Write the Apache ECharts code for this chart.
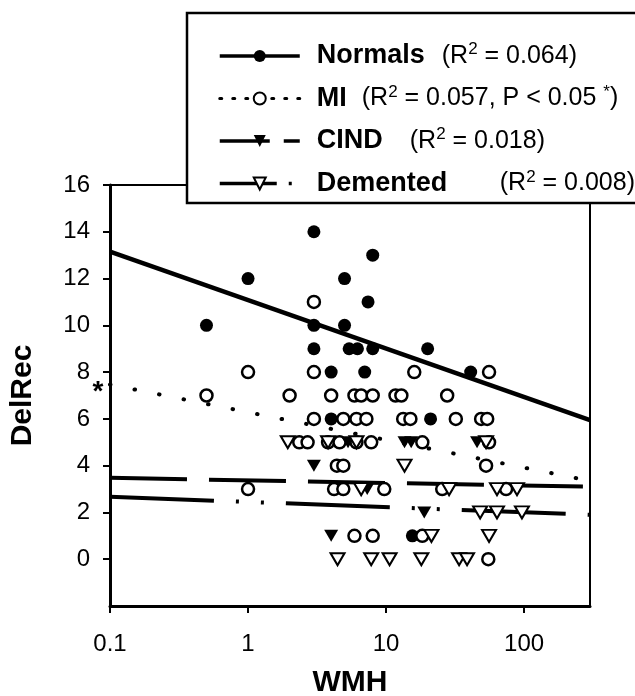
<!DOCTYPE html>
<html>
<head>
<meta charset="utf-8">
<script src="https://cdn.jsdelivr.net/npm/echarts@6.0.0/dist/echarts.min.js"></script>
<style>
    html, body { margin: 0; padding: 0; background: #fff; }
    #main { width: 635px; height: 696px; }
</style>
</head>
<body>
<div id="main"></div>
<script>
// groups and their R2 values
var groups = ["Normals", "MI", "CIND", "Demented"];
var r2Values = ["0.064", "0.057", "0.018", "0.008"];
var miNote = "P < 0.05";

// Normals (filled circles)
var normalsX = [3, 8, 1, 5, 7.4, 0.5, 3, 5, 3, 5.4, 6.2, 8, 20, 4, 7, 41, 4, 21, 15.5];
var normalsY = [14, 13, 12, 12, 11, 10, 10, 10, 9, 9, 9, 9, 9, 8, 8, 8, 6, 6, 1];

// MI (open circles)
var miX = [3,
    1, 3, 16, 55.7,
    0.5, 2, 4, 5.9, 6.6, 8, 11.7, 12.9, 27.7,
    3, 4.9, 6.1, 7.2, 13.3, 15, 32, 48.8, 54,
    2.35, 2.7, 3.8, 4.6, 6.1, 7.8, 18.3, 55.7,
    4.4, 4.9, 53,
    1, 4.2, 4.9, 9.7, 25.5, 74,
    5.9, 8, 18.3,
    55];
var miY = [11,
    8, 8, 8, 8,
    7, 7, 7, 7, 7, 7, 7, 7, 7,
    6, 6, 6, 6, 6, 6, 6, 6, 6,
    5, 5, 5, 5, 5, 5, 5, 5,
    4, 4, 4,
    3, 3, 3, 3, 3, 3,
    1, 1, 1,
    0];

// CIND (filled down triangles)
var cindX = [5.3, 13.6, 15.2, 45.6, 3, 7.3, 18.9, 4];
var cindY = [5, 5, 5, 5, 4, 3, 2, 1];

// Demented (open down triangles)
var dementedX = [1.94, 3.8, 6.1, 53, 13.6, 6.6, 28.6, 63.6, 88.8, 48, 63.6, 96.4, 21.3, 55.7, 4.45, 7.8, 10.6, 18, 33.8, 38.6];
var dementedY = [5, 5, 5, 5, 4, 3, 3, 3, 3, 2, 2, 2, 1, 1, 0, 0, 0, 0, 0, 0];

// regression lines, ends
var fitX = [0.1, 300];
var normalsFit = [13.15, 5.95];
var miFit = [7.47, 3.35];
var cindFit = [3.48, 3.1];
var dementedFit = [2.67, 1.9];

var FONT = "Liberation Sans";
var triDown = "path://M0,0L10,0L5,8.66Z";

function pairs(xs, ys) {
    return xs.map(function (x, i) { return [x, ys[i]]; });
}

// legend text: width of the bold name part per row
var nameWidths = [125, 45, 93, 183];
var rich = {
    g: { width: 12 },
    n: { fontFamily: FONT, fontSize: 25, color: "#000", lineHeight: 30 },
    s: { fontFamily: FONT, fontSize: 17, color: "#000", verticalAlign: "top", lineHeight: 17 }
};
nameWidths.forEach(function (w, i) {
    rich["b" + i] = { fontFamily: FONT, fontSize: 27, fontWeight: "bold", color: "#000", width: w, lineHeight: 30 };
});

function legendText(name) {
    var i = groups.indexOf(name);
    var txt = "{g|}{b" + i + "|" + name + "}{n|(R}{s|2}{n| = " + r2Values[i];
    if (name == "MI") {
        txt += ", " + miNote + " }{s|*}{n|)}";
    } else {
        txt += ")}";
    }
    return txt;
}

var chart = echarts.init(document.getElementById("main"));

var option = {
    animation: false,
    backgroundColor: "#fff",
    grid: {
        left: 110,
        right: 45,
        top: 185,
        bottom: 90,
        outerBoundsMode: "none",
        containLabel: false,
        show: true,
        borderColor: "#000",
        borderWidth: 2
    },
    legend: {
        orient: "vertical",
        left: 187,
        top: 13,
        padding: [28, 12, 6, 31],
        itemWidth: 80,
        itemHeight: 15,
        itemGap: 14,
        backgroundColor: "#fff",
        borderColor: "#000",
        borderWidth: 2.5,
        selectedMode: false,
        formatter: legendText,
        textStyle: { width: 319, rich: rich },
        data: [
            { name: "Normals", lineStyle: { type: "solid", width: 3.5 }, itemStyle: { borderWidth: 0 } },
            { name: "MI", lineStyle: { type: [2, 11], width: 3 }, itemStyle: { borderColor: "#000", borderWidth: 2 } },
            { name: "CIND", lineStyle: { type: [50, 14], width: 3.5 }, itemStyle: { borderWidth: 0 } },
            { name: "Demented", lineStyle: { type: [57, 12, 3, 20], width: 3.5 }, itemStyle: { borderColor: "#000", borderWidth: 2 } }
        ]
    },
    xAxis: {
        type: "log",
        logBase: 10,
        min: 0.1,
        max: 300,
        name: "WMH",
        nameLocation: "middle",
        nameGap: 62,
        nameTextStyle: { fontFamily: FONT, fontSize: 30, fontWeight: "bold", color: "#000" },
        axisLine: { onZero: false, lineStyle: { color: "#000", width: 3 } },
        axisTick: { length: 7, lineStyle: { color: "#000", width: 2 } },
        minorTick: { show: false },
        axisLabel: { fontFamily: FONT, fontSize: 24, color: "#000", margin: 26, showMaxLabel: false },
        splitLine: { show: false }
    },
    yAxis: {
        type: "value",
        min: -2,
        max: 16,
        interval: 2,
        name: "DelRec",
        nameLocation: "middle",
        nameRotate: 90,
        nameGap: 72,
        nameTextStyle: { fontFamily: FONT, fontSize: 30, fontWeight: "bold", color: "#000" },
        axisLine: { show: true, onZero: false, lineStyle: { color: "#000", width: 3 } },
        axisTick: { show: true, length: 7, lineStyle: { color: "#000", width: 2 } },
        axisLabel: { fontFamily: FONT, fontSize: 24, color: "#000", margin: 20, showMinLabel: false },
        splitLine: { show: false }
    },
    series: [
        // 回归线
        {
            name: "Normals", type: "line", z: 2, showSymbol: false, silent: true,
            symbol: "circle",
            itemStyle: { color: "#000" },
            lineStyle: { color: "#000", width: 4.5 },
            data: pairs(fitX, normalsFit)
        },
        {
            name: "MI", type: "line", z: 2, showSymbol: false, silent: true,
            symbol: "circle",
            itemStyle: { color: "#fff", borderColor: "#000", borderWidth: 2 },
            lineStyle: { color: "#000", width: 4, type: [0.5, 24.5], cap: "round" },
            data: pairs(fitX, miFit),
            markPoint: {
                symbol: "circle",
                symbolSize: 1,
                silent: true,
                itemStyle: { color: "rgba(0,0,0,0)" },
                label: {
                    show: true, position: "left", distance: 6, offset: [0, 8],
                    formatter: "*", fontFamily: FONT, fontSize: 28, fontWeight: "bold", color: "#000"
                },
                data: [{ coord: [fitX[0], miFit[0]] }]
            }
        },
        {
            name: "CIND", type: "line", z: 2, showSymbol: false, silent: true,
            symbol: triDown,
            itemStyle: { color: "#000" },
            lineStyle: { color: "#000", width: 4, type: [77, 22] },
            data: pairs(fitX, cindFit)
        },
        {
            name: "Demented", type: "line", z: 2, showSymbol: false, silent: true,
            symbol: triDown,
            itemStyle: { color: "#fff", borderColor: "#000", borderWidth: 2 },
            lineStyle: { color: "#000", width: 4, type: [104, 22, 3, 22, 3, 22] },
            data: pairs(fitX, dementedFit)
        },
        // 散点
        {
            name: "Normals", type: "scatter", z: 3,
            symbol: "circle", symbolSize: 13,
            itemStyle: { color: "#000", opacity: 1 },
            data: pairs(normalsX, normalsY)
        },
        {
            name: "MI", type: "scatter", z: 3,
            symbol: "circle", symbolSize: 12,
            itemStyle: { color: "#fff", borderColor: "#000", borderWidth: 2.5, opacity: 1 },
            data: pairs(miX, miY)
        },
        {
            name: "CIND", type: "scatter", z: 3,
            symbol: triDown, symbolSize: [14, 12],
            itemStyle: { color: "#000", opacity: 1 },
            data: pairs(cindX, cindY)
        },
        {
            name: "Demented", type: "scatter", z: 3,
            symbol: triDown, symbolSize: [14, 12],
            itemStyle: { color: "#fff", borderColor: "#000", borderWidth: 2, opacity: 1 },
            data: pairs(dementedX, dementedY)
        }
    ]
};

chart.setOption(option);
</script>
</body>
</html>
